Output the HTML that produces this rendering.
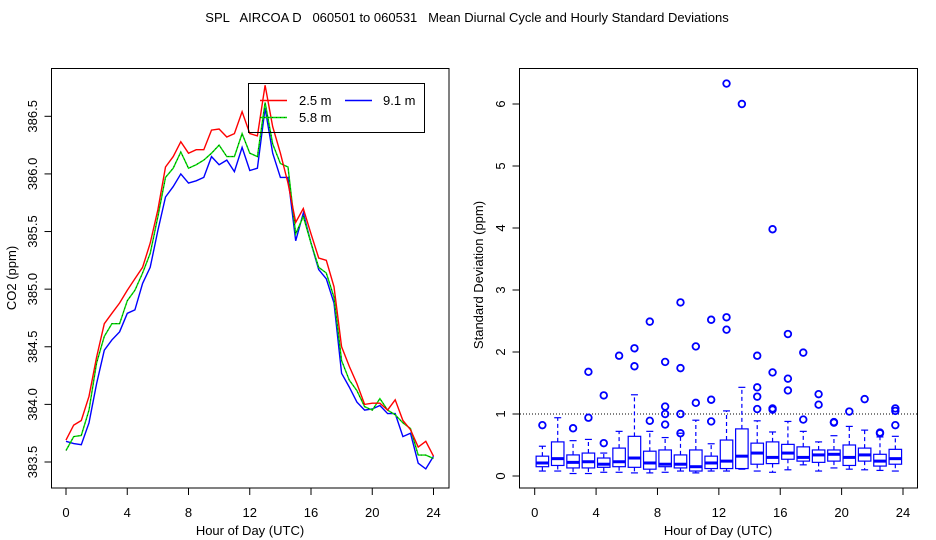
<!DOCTYPE html>
<html><head><meta charset="utf-8"><style>
html,body{margin:0;padding:0;background:#fff;}
svg{display:block;font-family:"Liberation Sans",sans-serif;}
</style></head><body>
<svg id="chart" width="936" height="540" viewBox="0 0 936 540" xmlns="http://www.w3.org/2000/svg">
<text x="467" y="22" font-size="13" text-anchor="middle" style="white-space:pre" xml:space="preserve">SPL   AIRCOA D   060501 to 060531   Mean Diurnal Cycle and Hourly Standard Deviations</text>
<g id="left"></g>
<g id="right"></g>
</svg>
<script>
// ---- Left panel data (half-hourly means, hours 0..24) ----
const hours = [];
for (let k = 0; k <= 48; k++) hours.push(k / 2);
const co2_25m = [383.69,383.82,383.86,384.07,384.41,384.70,384.79,384.88,384.99,385.09,385.19,385.40,385.69,386.06,386.15,386.28,386.18,386.21,386.21,386.38,386.39,386.32,386.35,386.54,386.35,386.33,386.77,386.41,386.18,385.92,385.58,385.70,385.48,385.27,385.25,385.02,384.50,384.33,384.18,384.00,384.01,384.01,383.95,384.04,383.86,383.78,383.63,383.68,383.55];
const co2_58m = [383.60,383.72,383.73,383.95,384.36,384.59,384.70,384.70,384.90,384.99,385.14,385.31,385.63,385.97,386.05,386.19,386.05,386.08,386.12,386.18,386.25,386.15,386.15,386.35,386.18,386.15,386.62,386.26,386.09,386.06,385.48,385.63,385.40,385.19,385.14,384.93,384.38,384.21,384.12,383.98,383.95,384.05,383.95,383.91,383.84,383.79,383.56,383.56,383.53];
const co2_91m = [383.68,383.66,383.65,383.84,384.18,384.47,384.56,384.63,384.79,384.82,385.05,385.19,385.51,385.80,385.89,386.00,385.92,385.94,385.97,386.15,386.08,386.12,386.02,386.23,386.03,386.05,386.57,386.18,385.97,385.97,385.42,385.66,385.40,385.17,385.09,384.88,384.27,384.15,384.02,383.95,383.96,383.99,383.92,383.92,383.72,383.75,383.49,383.44,383.55];
const leftXTicks = [0,4,8,12,16,20,24];
const leftYTicks = ["383.5","384.0","384.5","385.0","385.5","386.0","386.5"];

// ---- Right panel data (hourly boxplots of std dev) ----
const boxHours = [0.5,1.5,2.5,3.5,4.5,5.5,6.5,7.5,8.5,9.5,10.5,11.5,12.5,13.5,14.5,15.5,16.5,17.5,18.5,19.5,20.5,21.5,22.5,23.5];
const boxLow  = [0.08,0.08,0.04,0.04,0.06,0.06,0.05,0.05,0.06,0.08,0.05,0.08,0.08,0.11,0.08,0.06,0.10,0.18,0.08,0.13,0.11,0.10,0.09,0.08];
const boxQ1   = [0.15,0.17,0.13,0.13,0.14,0.15,0.14,0.11,0.15,0.13,0.08,0.12,0.12,0.12,0.19,0.20,0.27,0.24,0.22,0.24,0.17,0.24,0.16,0.19];
const boxMed  = [0.21,0.28,0.22,0.23,0.19,0.23,0.29,0.21,0.19,0.19,0.15,0.21,0.24,0.32,0.37,0.30,0.37,0.30,0.34,0.35,0.30,0.34,0.24,0.28];
const boxQ3   = [0.32,0.55,0.34,0.37,0.29,0.45,0.64,0.40,0.42,0.34,0.42,0.32,0.58,0.76,0.53,0.55,0.51,0.47,0.42,0.42,0.50,0.45,0.35,0.43];
const boxHigh = [0.48,0.94,0.57,0.59,0.37,0.72,1.31,0.72,0.62,0.69,0.90,0.52,1.05,1.43,0.89,0.71,0.88,0.72,0.55,0.65,0.80,0.74,0.63,0.64];
const boxOutliers = [[0.82],[],[0.77],[0.94,1.68],[0.53,1.30],[1.94],[1.77,2.06],[0.89,2.49],[0.83,1.0,1.12,1.84],[0.69,1.0,1.74,2.80],[1.18,2.09],[0.88,1.23,2.52],[2.36,2.56,6.33],[6.0],[1.08,1.28,1.43,1.94],[1.07,1.09,1.67,3.98],[1.38,1.57,2.29],[0.91,1.99],[1.15,1.32],[0.86,0.87],[1.04],[1.24],[0.69,0.70],[0.82,1.05,1.09]];
const rightXTicks = [0,4,8,12,16,20,24];
const rightYTicks = [0,1,2,3,4,5,6];

const NS = "http://www.w3.org/2000/svg";
function mk(parent, tag, attrs) {
  const e = document.createElementNS(NS, tag);
  for (const k in attrs) e.setAttribute(k, attrs[k]);
  parent.appendChild(e);
  return e;
}

// ---------- LEFT ----------
const L = document.getElementById('left');
const lx = h => 66 + h * (433.5 - 66) / 24;
const ly = v => 462 - (v - 383.5) * (462 - 116.3) / 3;
let fr = mk(L, 'rect', {x:51.5, y:68.5, width:397.5, height:419.5, fill:'none', stroke:'#000', 'stroke-width':1});


leftXTicks.forEach(t => {
  const tk = mk(L, 'line', {x1:lx(t), x2:lx(t), y1:488, y2:495, stroke:'#000'});
  
  
  const tl = mk(L, 'text', {x:lx(t), y:517, 'font-size':13, 'text-anchor':'middle'});
  tl.textContent = t;
  
  
});
leftYTicks.forEach(t => {
  const y = ly(parseFloat(t));
  const tk = mk(L, 'line', {x1:44.5, x2:51.5, y1:y, y2:y, stroke:'#000'});
  
  
  const tl = mk(L, 'text', {x:0, y:0, 'font-size':13, 'text-anchor':'middle', transform:`translate(37,${y}) rotate(-90)`});
  tl.textContent = t;
  
  
});
let xt = mk(L, 'text', {x:250, y:535, 'font-size':13, 'text-anchor':'middle'});
xt.textContent = 'Hour of Day (UTC)';


let yt = mk(L, 'text', {x:0, y:0, 'font-size':13, 'text-anchor':'middle', transform:'translate(16,278) rotate(-90)'});
yt.textContent = 'CO2 (ppm)';



function series(arr, color, name, dash) {
  const d = arr.map((v, i) => (i ? 'L' : 'M') + lx(hours[i]).toFixed(1) + ' ' + ly(v).toFixed(1)).join(' ');
  const p = mk(L, 'path', {d:d, fill:'none', stroke:color, 'stroke-width':1.4});
  
  
  if (dash) {
    const p2 = mk(L, 'path', {d:d, fill:'none', stroke:'#000', 'stroke-width':0.6, 'stroke-dasharray':'1 3'});
    
    
  }
}
series(co2_91m, '#0000ff', 'line-9-1m', false);
series(co2_58m, '#00dd00', 'line-5-8m', true);
series(co2_25m, '#ff0000', 'line-2-5m', false);

// legend
const lg = mk(L, 'g', {});


mk(lg, 'rect', {x:248.5, y:83.5, width:176, height:49, fill:'none', stroke:'#000'});
mk(lg, 'line', {x1:260, x2:287, y1:100.5, y2:100.5, stroke:'#ff0000', 'stroke-width':1.5});
mk(lg, 'line', {x1:345, x2:372, y1:100.5, y2:100.5, stroke:'#0000ff', 'stroke-width':1.5});
mk(lg, 'line', {x1:260, x2:287, y1:117.5, y2:117.5, stroke:'#00dd00', 'stroke-width':1.5});
mk(lg, 'line', {x1:260, x2:287, y1:117.5, y2:117.5, stroke:'#000', 'stroke-width':0.6, 'stroke-dasharray':'1 3'});
[['2.5 m',299,105],['9.1 m',383,105],['5.8 m',299,122]].forEach(a => {
  const t = mk(lg, 'text', {x:a[1], y:a[2], 'font-size':13});
  t.textContent = a[0];
  
  
});

// ---------- RIGHT ----------
const R = document.getElementById('right');
const rx = h => 534.7 + h * (903 - 534.7) / 24;
const ry = v => 476 - v * 62;
let fr2 = mk(R, 'rect', {x:519.5, y:68.5, width:398, height:419.5, fill:'none', stroke:'#000'});


rightXTicks.forEach(t => {
  const tk = mk(R, 'line', {x1:rx(t), x2:rx(t), y1:488, y2:495, stroke:'#000'});
  
  
  const tl = mk(R, 'text', {x:rx(t), y:517, 'font-size':13, 'text-anchor':'middle'});
  tl.textContent = t;
  
  
});
rightYTicks.forEach(t => {
  const y = ry(t);
  const tk = mk(R, 'line', {x1:512.5, x2:519.5, y1:y, y2:y, stroke:'#000'});
  
  
  const tl = mk(R, 'text', {x:0, y:0, 'font-size':13, 'text-anchor':'middle', transform:`translate(505,${y}) rotate(-90)`});
  tl.textContent = t;
  
  
});
let xt2 = mk(R, 'text', {x:718, y:535, 'font-size':13, 'text-anchor':'middle'});
xt2.textContent = 'Hour of Day (UTC)';


let yt2 = mk(R, 'text', {x:0, y:0, 'font-size':13, 'text-anchor':'middle', transform:'translate(483,275) rotate(-90)'});
yt2.textContent = 'Standard Deviation (ppm)';


let ref = mk(R, 'line', {x1:520, x2:917, y1:ry(1), y2:ry(1), stroke:'#000', 'stroke-dasharray':'1 2'});



boxHours.forEach((h, i) => {
  const cx = rx(h), w = 12.5, c = '#0000ff';
  const g = mk(R, 'g', {stroke:c, fill:'none', 'stroke-width':1.2});
  
  
  mk(g, 'line', {x1:cx, x2:cx, y1:ry(boxQ3[i]), y2:ry(boxHigh[i]), 'stroke-dasharray':'4 3'});
  mk(g, 'line', {x1:cx, x2:cx, y1:ry(boxQ1[i]), y2:ry(boxLow[i]), 'stroke-dasharray':'4 3'});
  mk(g, 'line', {x1:cx-3.5, x2:cx+3.5, y1:ry(boxHigh[i]), y2:ry(boxHigh[i])});
  mk(g, 'line', {x1:cx-3.5, x2:cx+3.5, y1:ry(boxLow[i]), y2:ry(boxLow[i])});
  mk(g, 'rect', {x:cx-w/2, y:ry(boxQ3[i]), width:w, height:ry(boxQ1[i]) - ry(boxQ3[i])});
  mk(g, 'line', {x1:cx-w/2, x2:cx+w/2, y1:ry(boxMed[i]), y2:ry(boxMed[i]), 'stroke-width':3});
  boxOutliers[i].forEach(v => {
    const o = mk(R, 'circle', {cx:cx, cy:ry(v), r:3.3, fill:'none', stroke:c, 'stroke-width':1.8});
    
    
  });
});
</script>
</body></html>
